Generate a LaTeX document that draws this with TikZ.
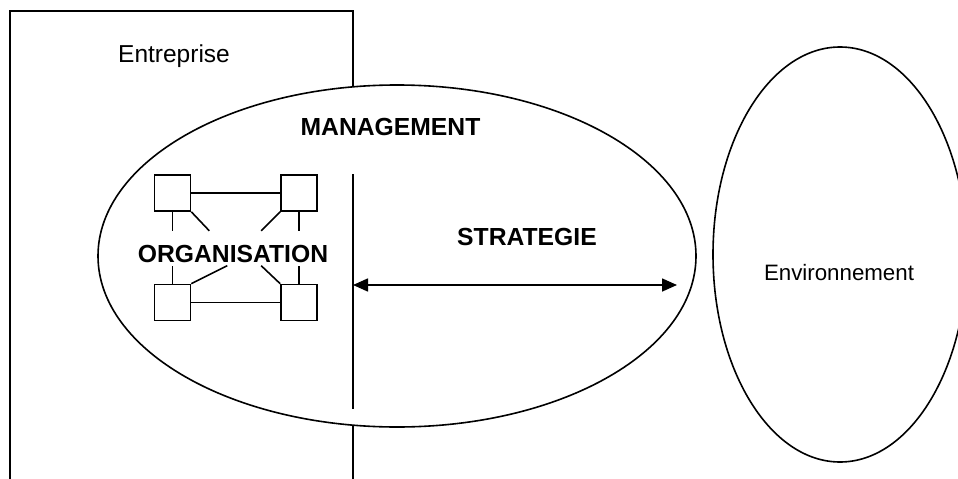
\documentclass[tikz,border=0pt]{standalone}
\usepackage{fontspec}
\setmainfont{Liberation Sans}
\usetikzlibrary{arrows.meta,shapes.geometric}
\begin{document}
\begin{tikzpicture}[x=1pt,y=-1pt,
  ln/.style={line width=1.6pt,black},
  sq/.style={draw,line width=1.6pt,minimum size=36pt,inner sep=0pt,fill=white},
  lblbold/.style={font=\fontsize{24.7}{28}\selectfont\bfseries,inner sep=0pt,anchor=base},
  lblreg/.style={font=\fontsize{24.5}{28}\selectfont,inner sep=0pt,anchor=base},
  lblenv/.style={font=\fontsize{22.3}{26}\selectfont,inner sep=0pt,anchor=base}]
\clip (0,0) rectangle (958,479);
\fill[white] (0,0) rectangle (958,479);
% Entreprise frame
\coordinate (rbl) at (10,485);
\coordinate (rtl) at (10,11);
\coordinate (rtr) at (353,11);
\coordinate (rbr) at (353,485);
\draw[ln,line join=miter] (rbl) -- (rtl) -- (rtr) -- (rbr);
% Management ellipse
\node[ellipse,draw,ln,fill=white,minimum width=598pt,minimum height=342pt,inner sep=0pt] (mgmt) at (397,256) {};
% divider
\coordinate (dtop) at (353,174);
\coordinate (dbot) at (353,409);
\draw[ln] (dtop) -- (dbot);
% Environment ellipse
\node[ellipse,draw,ln,minimum width=254pt,minimum height=415pt,inner sep=0pt] (env) at (840,254.5) {};
% strategy arrow
\coordinate (aL) at (353,285);
\coordinate (aR) at (677,285);
\draw[ln,{Triangle[length=15pt,width=13pt]}-{Triangle[length=15pt,width=13pt]}] (aL) -- (aR);
% organisation squares
\node[sq] (tl) at (172.5,193) {};
\node[sq] (tr) at (299,193) {};
\node[sq] (bl) at (172.5,302.5) {};
\node[sq] (br) at (299,302.5) {};
\draw[ln] (tl.east) -- (tr.west);
\draw[ln] (bl.east) -- (br.west);
\draw[ln] (tl.south) -- ++(0,19);
\draw[ln] (tl.south east) -- ++(18,19);
\draw[ln] (tr.south) -- ++(0,19);
\draw[ln] (tr.south west) -- ++(-19,19);
\draw[ln] (bl.north) -- ++(0,-18);
\draw[ln] (bl.north east) -- ++(36,-18);
\draw[ln] (br.north) -- ++(0,-18);
\draw[ln] (br.north west) -- ++(-19,-18);
% labels
\node[lblreg] (tEnt) at (174,62) {Entreprise};
\node[lblbold] (tMan) at (390.5,135) {MANAGEMENT};
\node[lblbold] (tStr) at (527,245) {STRATEGIE};
\node[lblbold] (tOrg) at (233,262) {ORGANISATION};
\node[lblenv] (tEnv) at (839,280.7) {Environnement};
\end{tikzpicture}
\end{document}
